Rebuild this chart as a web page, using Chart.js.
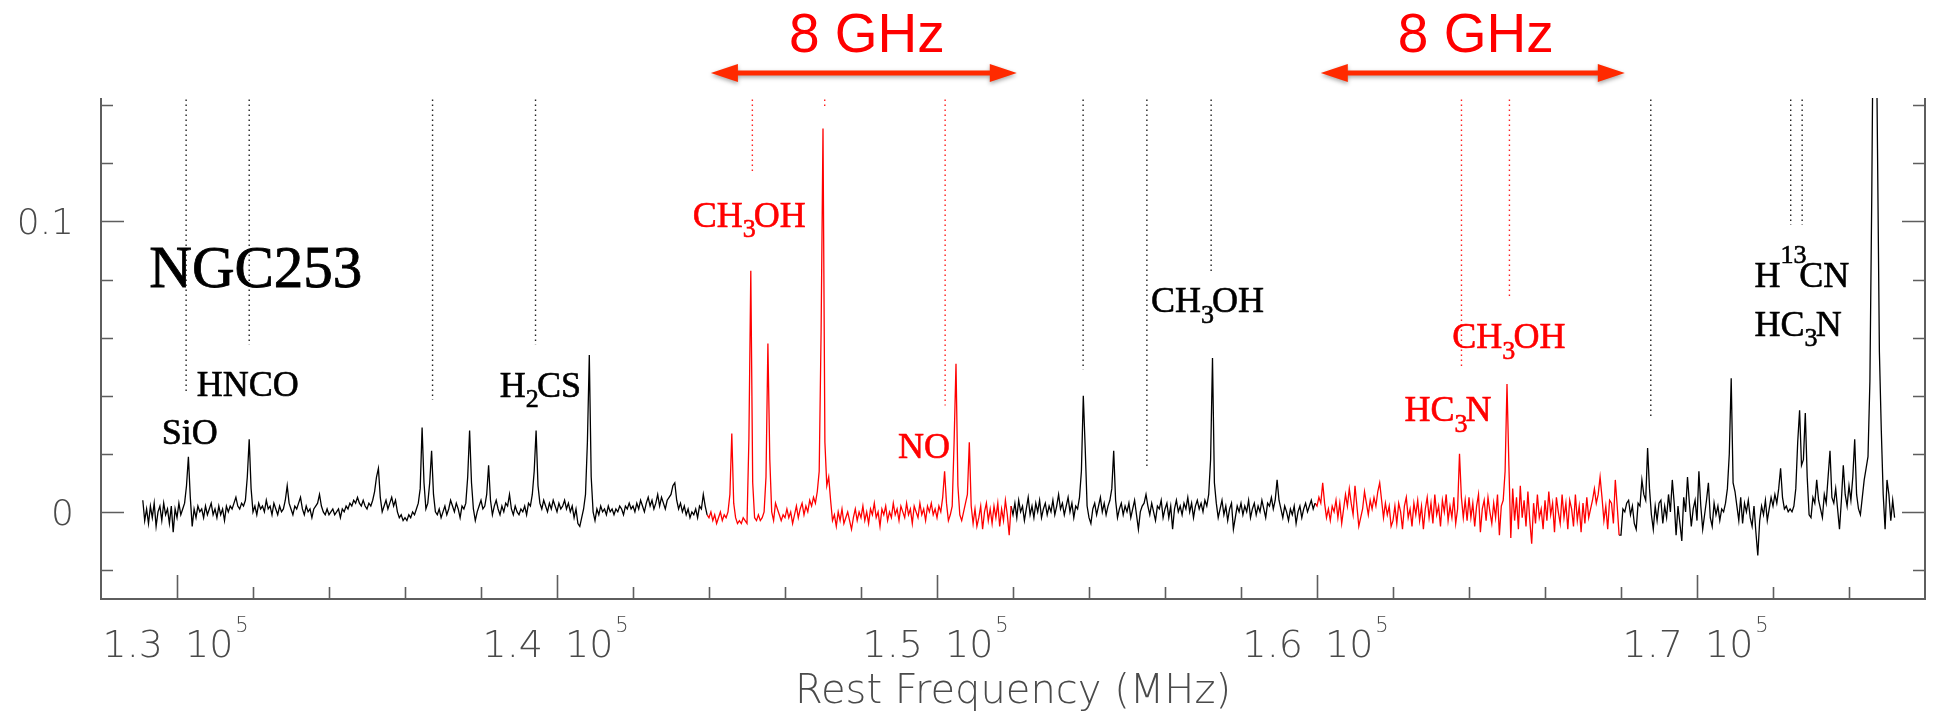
<!DOCTYPE html>
<html>
<head>
<meta charset="utf-8">
<title>NGC253 spectrum</title>
<script src="https://cdn.jsdelivr.net/npm/chart.js@4.4.1/dist/chart.umd.min.js"></script>
<style>
  html, body { margin: 0; padding: 0; background: #fff; }
  #wrap { width: 1934px; height: 714px; position: relative; }
</style>
</head>
<body>
<div id="wrap"><canvas id="spec"></canvas></div>
<script>
/* NGC253 line survey, 129-175 GHz */

// channel width of the spectrum (MHz) and conversion of stored values (mK -> K)
const CHAN_MHZ = 50;
const K_PER_MK = 0.001;

// spectrum, in mK; each row = 1 GHz (20 channels)
const black1Start = 129100;
const black1 = [
  4,-3,1,-4,2,-2,3,-5,0,2,-3,3,-1,1,-4,2,-7,1,            // 129.1
  -2,3,-1,1,3,9,19,5,-5,1,-2,2,0,1,-2,2,-1,1,3,-1,        // 130
  1,-2,2,-1,1,-3,2,0,2,1,3,5,2,1,3,2,4,12,25,8,           // 131
  0,2,-1,3,1,2,0,4,1,2,-1,3,1,-1,2,0,1,4,9,3,             // 132
  1,-1,2,1,3,5,1,-1,2,0,1,-2,1,2,3,6,2,0,-1,1,            // 133
  -1,0,1,-1,0,1,-2,1,0,2,1,3,2,4,3,5,3,2,4,2,             // 134
  1,3,2,4,7,12,15,5,0,2,4,1,3,5,2,4,0,-2,-1,-3,           // 135
  -2,-3,-1,-2,0,-1,1,3,8,29,10,1,3,10,21,6,0,-1,1,-2,     // 136
  0,2,-1,1,4,2,0,3,1,-2,2,1,3,12,28,10,1,-3,0,2,          // 137
  4,1,2,6,16,4,-1,2,4,1,-1,2,0,3,2,6,1,-1,2,0,            // 138
  -1,1,0,2,-1,3,2,6,14,28,9,3,1,4,2,0,3,1,4,2,            // 139
  0,3,1,2,4,1,3,0,2,-2,1,-4,-5,-2,1,6,24,54,12,0,         // 140
  -3,1,-1,2,0,1,-1,2,0,1,-1,1,0,2,1,-1,2,1,3,1,           // 141
  2,0,3,1,4,2,0,3,5,2,4,1,3,6,2,5,3,1,4,5,                // 142
  6,9,10,4,1,3,0,2,-1,1,-2,0,-1,1,-2,2,1,6,2,-1           // 143
];
const red1Start = 144000;
const red1 = [
  -2,0,-3,-1,-4,-2,0,-3,-1,-2,0,6,27,3,-2,-4,-3,-4,-2,-3,       // 144
  -4,25,83,10,-2,-3,-1,-3,-2,0,12,58,18,0,-3,3,1,-1,-3,-1,      // 145
  -2,1,-2,0,-4,-1,2,-2,1,3,-1,2,0,4,2,5,3,7,14,62,              // 146
  132,24,9,12,4,-3,-1,-5,0,-3,1,-4,-2,0,-3,-6,-2,1,-3,0,        // 147
  -2,2,-3,0,-4,1,-1,3,-2,0,-5,1,-1,2,-3,0,-2,3,-1,1,            // 148
  -3,2,0,-2,3,-1,1,-4,2,0,-2,3,-1,1,-3,2,0,3,-1,1,              // 149
  -2,2,0,5,14,3,-3,-1,2,24,51,9,-1,-3,0,3,6,24,2,-4,            // 150
  1,-5,-2,2,-6,0,3,-3,1,-4,2,-2,3,-5,1,-3,4,-1,-8,2             // 151
];
const black2Start = 152000;
const black2 = [
  -1,3,-2,4,0,2,-3,1,5,-1,2,-2,3,0,4,-2,1,3,-1,2,        // 152
  0,4,-1,2,6,1,3,-1,2,5,0,3,-2,2,1,5,14,40,22,2,         // 153
  -2,-4,1,3,-1,2,5,0,3,-1,2,4,8,21,4,-2,1,3,-1,2,        // 154
  0,3,-2,1,4,-1,-6,0,2,3,6,2,-1,3,0,-3,2,1,4,-2,         // 155
  1,3,-2,2,-6,1,4,0,2,-1,3,1,5,0,3,-2,2,4,1,3,           // 156
  0,4,2,6,18,53,10,3,-2,1,4,-1,2,-3,1,3,-6,-2,2,0,       // 157
  3,-1,2,0,4,-2,1,3,-1,2,0,4,1,-2,3,2,5,1,4,11,          // 158
  4,1,-2,2,0,-3,1,-1,2,-4,0,2,-2,1,3,0,2,4,1,3           // 159
];
const red2Start = 160000;
const red2 = [
  2,5,3,10,3,-2,1,-3,2,0,4,-2,3,-4,1,6,2,8,3,-1,         // 160
  9,2,-5,-2,1,7,3,-1,4,1,5,2,7,10,4,-2,3,-1,2,-5,        // 161
  -3,2,-4,3,0,-6,2,5,-2,1,-5,3,-1,4,-3,2,-6,1,5,-2,      // 162
  3,-4,6,-1,2,-5,4,0,6,-3,2,-2,5,-4,1,20,5,-2,4,-3,      // 163
  5,-2,3,-5,2,6,-7,1,4,-3,5,0,-4,3,-2,6,-8,2,4,14,       // 164
  44,16,-9,8,-3,5,-6,9,-2,4,-5,7,-3,-11,3,-4,6,-2,1,-6,  // 165
  4,-3,7,-1,3,-7,5,0,-4,6,-2,3,-6,4,1,-5,6,-3,2,-7,      // 166
  3,-4,5,-2,1,4,8,3,6,12,5,-3,2,-6,4,3,-4,11,2,-8        // 167
];
const black3Start = 168000;
const black3 = [
  -8,1,0,3,4,-1,2,-4,-6,3,2,11,6,4,22,8,-1,-6,2,-3,               // 168
  3,4,-4,2,-2,6,0,11,3,-8,2,-4,-10,5,0,12,3,-5,1,4,               // 169
  -3,14,2,-6,-1,4,10,-2,-5,3,-1,2,-3,1,0,3,8,20,46,10,            // 170
  7,2,-3,5,-4,3,0,4,-2,-5,2,-7,-15,-3,2,-1,4,-3,1,5,              // 171
  2,6,3,8,15,5,1,2,0,1,0,2,8,24,35,16,18,34,12,-1,                // 172
  -2,5,3,11,4,1,-2,6,3,12,21,5,3,8,1,-6,4,16,6,2,                 // 173
  9,4,12,25,6,1,-1,5,11,15,19,45,110,195,195,125,55,28,6,-6,      // 174
  11,6,-3,4,-2                                                    // 175
];

// identified lines (MHz) and where their dotted marker stops (K)
const lineFreqs   = [130240, 131900, 136725, 139435, 145141, 147045, 150214, 153845, 155523, 157214, 163802, 165064, 168784, 172466, 172767];
const lineBottoms = [0.041, 0.0575, 0.0385, 0.0575, 0.1163, 0.139, 0.0366, 0.0489, 0.0151, 0.0826, 0.049, 0.0742, 0.0318, 0.0988, 0.0988];
const lineInBand  = [false, false, false, false, true, true, true, false, false, false, true, true, false, false, false];
const lineTop = 0.142;

// axis ticks
const xMajorTicks = [130000, 140000, 150000, 160000, 170000];
const xTickMantissa = ['1.3', '1.4', '1.5', '1.6', '1.7'];
const xTickExp = '5';
const xMinorStep = 2000;
const yMajorTicks = [0, 0.1];
const yTickLabels = ['0', '0.1'];
const yMinorStep = 0.02;

// 8 GHz bands (MHz)
const bandFrom = [144050, 160100];
const bandTo   = [152100, 168100];

const BLACK = '#000000';
const RED = '#ff0000';
const AXIS = '#5e5e5e';
const TEXT_GRAY = '#4a4a4a';

// label text uses _n for subscript and ^n for superscript
const annotations = [
  { text: 'NGC253', f: 129271, v: 0.0773, color: BLACK, size: 59 },
  { text: 'SiO',    f: 129597, v: 0.0234, color: BLACK, size: 36 },
  { text: 'HNCO',   f: 130517, v: 0.0399, color: BLACK, size: 36 },
  { text: 'H_2CS',  f: 138496, v: 0.0397, color: BLACK, size: 36 },
  { text: 'CH_3OH', f: 143570, v: 0.0982, color: RED,   size: 36 },
  { text: 'NO',     f: 148971, v: 0.0186, color: RED,   size: 36 },
  { text: 'CH_3OH', f: 155629, v: 0.0689, color: BLACK, size: 36 },
  { text: 'HC_3N',  f: 162300, v: 0.0312, color: RED,   size: 36 },
  { text: 'CH_3OH', f: 163562, v: 0.0564, color: RED,   size: 36 },
  { text: 'H^13CN', f: 171515, v: 0.0773, color: BLACK, size: 36 },
  { text: 'HC_3N',  f: 171515, v: 0.0607, color: BLACK, size: 36 }
];

function toPoints(start, vals, prev) {
  const pts = vals.map((mk, i) => ({ x: start + i * CHAN_MHZ, y: mk * K_PER_MK }));
  if (prev) pts.unshift(prev[prev.length - 1]);
  return pts;
}

const segB1 = toPoints(black1Start, black1);
const segR1 = toPoints(red1Start, red1, segB1);
const segB2 = toPoints(black2Start, black2, segR1);
const segR2 = toPoints(red2Start, red2, segB2);
const segB3 = toPoints(black3Start, black3, segR2);

function specSet(pts, color) {
  return { data: pts, borderColor: color, borderWidth: 1.3, pointRadius: 0, tension: 0, fill: false };
}

const datasets = [
  specSet(segB1, BLACK), specSet(segR1, RED), specSet(segB2, BLACK),
  specSet(segR2, RED), specSet(segB3, BLACK)
];
lineFreqs.forEach((f, i) => {
  datasets.push({
    data: [{ x: f, y: lineTop }, { x: f, y: lineBottoms[i] }],
    borderColor: lineInBand[i] ? '#ff2020' : '#222222',
    borderWidth: 1.4,
    borderDash: [1.5, 3.5],
    pointRadius: 0,
    fill: false
  });
});

const SERIF = '"Liberation Serif", "Times New Roman", serif';
const SANS_THIN = '"DejaVu Sans", sans-serif';

// draw text, then trace it lightly so it has the heavier look of the original
function inkText(ctx, s, x, y) {
  ctx.fillText(s, x, y);
  ctx.strokeText(s, x, y);
}

function drawChem(ctx, text, x, y, size, color) {
  ctx.fillStyle = color;
  ctx.strokeStyle = color;
  ctx.lineWidth = size > 40 ? 0.8 : 0.6;
  ctx.textAlign = 'left';
  ctx.textBaseline = 'alphabetic';
  const re = /([_^])(\d+)|([^_^]+)/g;
  let m, cx = x;
  while ((m = re.exec(text))) {
    if (m[3]) {
      ctx.font = size + 'px ' + SERIF;
      inkText(ctx, m[3], cx, y);
      cx += ctx.measureText(m[3]).width;
    } else {
      const sub = m[1] === '_';
      ctx.font = Math.round(size * 0.72) + 'px ' + SERIF;
      inkText(ctx, m[2], cx, y + (sub ? size * 0.3 : -size * 0.69));
      cx += ctx.measureText(m[2]).width * (sub ? 0.85 : 0.72);
    }
  }
}

function drawArrow(ctx, x1, x2, y) {
  const t = 2.6, L = 27, H = 9;
  ctx.beginPath();
  ctx.moveTo(x1, y);
  ctx.lineTo(x1 + L, y - H);
  ctx.lineTo(x1 + L, y - t);
  ctx.lineTo(x2 - L, y - t);
  ctx.lineTo(x2 - L, y - H);
  ctx.lineTo(x2, y);
  ctx.lineTo(x2 - L, y + H);
  ctx.lineTo(x2 - L, y + t);
  ctx.lineTo(x1 + L, y + t);
  ctx.lineTo(x1 + L, y + H);
  ctx.closePath();
  ctx.fill();
}

const framePlugin = {
  id: 'frame',
  afterDatasetsDraw(chart) {
    const { ctx, chartArea: a, scales: { x, y } } = chart;
    ctx.save();

    // axes: left, bottom, right (no top)
    ctx.strokeStyle = AXIS;
    ctx.lineWidth = 2;
    ctx.beginPath();
    ctx.moveTo(a.left, a.top);
    ctx.lineTo(a.left, a.bottom);
    ctx.lineTo(a.right, a.bottom);
    ctx.lineTo(a.right, a.top);
    ctx.stroke();

    // inward ticks
    ctx.lineWidth = 1.6;
    ctx.beginPath();
    for (let f = x.min + xMinorStep; f < x.max; f += xMinorStep) {
      const px = Math.round(x.getPixelForValue(f)) + 0.5;
      const len = xMajorTicks.includes(f) ? 24 : 12;
      ctx.moveTo(px, a.bottom);
      ctx.lineTo(px, a.bottom - len);
    }
    for (let k = -1; k <= 7; k++) {
      const v = +(k * yMinorStep).toFixed(3);
      const py = Math.round(y.getPixelForValue(v)) + 0.5;
      const len = yMajorTicks.includes(v) ? 23 : 12;
      ctx.moveTo(a.left, py);
      ctx.lineTo(a.left + len, py);
      ctx.moveTo(a.right, py);
      ctx.lineTo(a.right - len, py);
    }
    ctx.stroke();

    // tick labels
    ctx.fillStyle = TEXT_GRAY;
    ctx.textBaseline = 'alphabetic';
    ctx.font = '200 36px ' + SANS_THIN;
    ctx.textAlign = 'right';
    yMajorTicks.forEach((v, i) => {
      ctx.fillText(yTickLabels[i], 74, y.getPixelForValue(v) + 13);
    });
    xMajorTicks.forEach((f, i) => {
      const px = x.getPixelForValue(f);
      ctx.font = '200 38px ' + SANS_THIN;
      ctx.textAlign = 'right';
      ctx.fillText(xTickMantissa[i], px - 14, a.bottom + 58);
      ctx.textAlign = 'left';
      ctx.fillText('10', px + 8, a.bottom + 58);
      const w = ctx.measureText('10').width;
      ctx.font = '200 21px ' + SANS_THIN;
      ctx.fillText(xTickExp, px + 10 + w, a.bottom + 33);
    });

    // axis title
    ctx.font = '200 40px ' + SANS_THIN;
    ctx.textAlign = 'center';
    ctx.fillText('Rest Frequency (MHz)', (a.left + a.right) / 2, a.bottom + 104);

    // molecule labels
    annotations.forEach(an => {
      drawChem(ctx, an.text, x.getPixelForValue(an.f), y.getPixelForValue(an.v), an.size, an.color);
    });

    // 8 GHz band arrows
    bandFrom.forEach((f, i) => {
      const x1 = x.getPixelForValue(f), x2 = x.getPixelForValue(bandTo[i]);
      ctx.save();
      ctx.fillStyle = '#ff2a00';
      ctx.shadowColor = 'rgba(0,0,0,0.35)';
      ctx.shadowBlur = 4;
      ctx.shadowOffsetY = 2;
      drawArrow(ctx, x1, x2, a.top - 25);
      ctx.restore();
      ctx.fillStyle = RED;
      ctx.font = '55px "Liberation Sans", Arial, sans-serif';
      ctx.textAlign = 'center';
      ctx.fillText('8 GHz', (x1 + x2) / 2 + 3, a.top - 46);
    });

    ctx.restore();
  }
};

new Chart(document.getElementById('spec'), {
  type: 'line',
  data: { datasets },
  options: {
    responsive: true,
    maintainAspectRatio: false,
    devicePixelRatio: 1,
    animation: false,
    events: [],
    layout: { padding: { left: 101, right: 9, top: 98, bottom: 115 } },
    plugins: { legend: { display: false }, tooltip: { enabled: false } },
    scales: {
      x: { type: 'linear', display: false, min: 128000, max: 176000 },
      y: { type: 'linear', display: false, min: -0.03, max: 0.1425 }
    }
  },
  plugins: [framePlugin]
});
</script>
</body>
</html>
